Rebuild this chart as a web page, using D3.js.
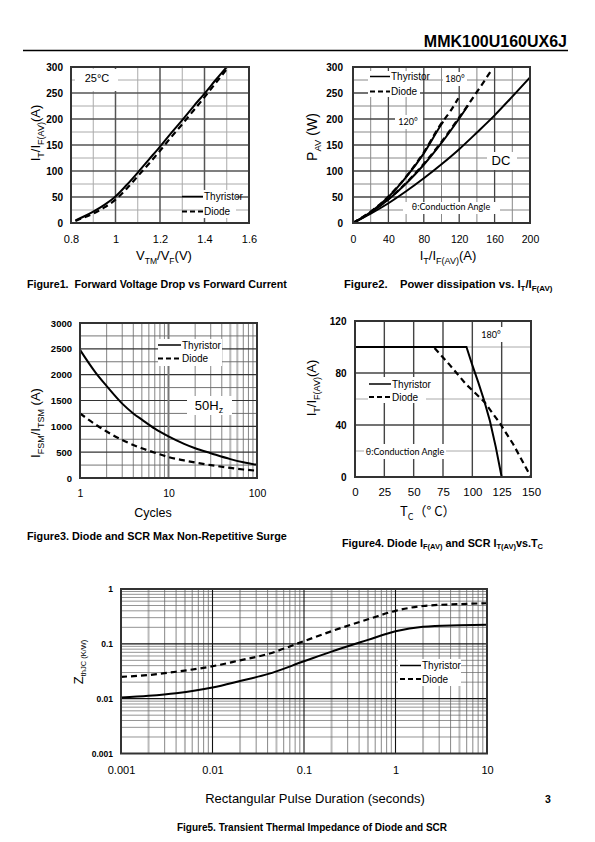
<!DOCTYPE html>
<html><head><meta charset="utf-8">
<script src="https://cdn.jsdelivr.net/npm/d3@7"></script>
<style>
html,body{margin:0;padding:0;background:#fff;}
svg{display:block;}
.pre{white-space:pre;}
</style></head><body>
<svg id="page" width="595" height="842"></svg>
<script>
// ================= DATA =================
// Figure 1 : forward voltage drop vs forward current
const fig1XTicks = [0.8, 1, 1.2, 1.4, 1.6];
const fig1XLabels = ["0.8", "1", "1.2", "1.4", "1.6"];
const fig1YTicks = [0, 50, 100, 150, 200, 250, 300];
const fig1Voltage = [0.82, 0.86, 0.9, 0.95, 1.0, 1.05, 1.1, 1.15, 1.2, 1.25, 1.3, 1.35, 1.4, 1.45, 1.5];
const fig1Thyristor = [5, 13, 22, 35, 51, 73, 97, 122, 147, 173, 198, 224, 249, 275, 300];
const fig1Diode = [4, 11, 18, 30, 45, 66, 90, 114, 139, 165, 190, 216, 242, 269, 296];

// Figure 2 : power dissipation
const fig2XTicks = [0, 40, 80, 120, 160, 200];
const fig2YTicks = [0, 50, 100, 150, 200, 250, 300];
const fig2DCCurrent = [0, 20, 40, 60, 80, 100, 120, 140, 160, 180, 200];
const fig2DCPower = [0, 18, 38, 61, 86, 113, 142, 174, 207, 243, 280];
const fig2T180Current = [0, 20, 40, 60, 80, 100, 120, 130];
const fig2T180Power = [0, 20, 45, 76, 112, 154, 201, 226];
const fig2D180Current = [0, 20, 40, 60, 80, 100, 120, 140, 155];
const fig2D180Power = [0, 21, 46, 77, 114, 156, 203, 252, 290];
const fig2T120Current = [0, 20, 40, 60, 80, 100, 102];
const fig2T120Power = [0, 21, 50, 88, 134, 190, 195];
const fig2D120Current = [0, 20, 40, 60, 80, 100, 110, 119];
const fig2D120Power = [0, 22, 51, 89, 136, 192, 215, 240];

// Figure 3 : max non-repetitive surge
const fig3XTicks = [1, 10, 100];
const fig3YTicks = [0, 500, 1000, 1500, 2000, 2500, 3000];
const fig3Cycles = [1, 1.5, 2, 3, 4, 5, 7, 10, 15, 20, 30, 50, 70, 100];
const fig3Thyristor = [2480, 2040, 1780, 1440, 1250, 1130, 955, 805, 660, 575, 480, 365, 305, 255];
const fig3Diode = [1250, 1035, 900, 735, 640, 575, 490, 405, 340, 300, 250, 195, 165, 140];

// Figure 4 : current vs case temperature
const fig4XTicks = [0, 25, 50, 75, 100, 125, 150];
const fig4YTicks = [0, 40, 80, 120];
const fig4TcThyristor = [0, 95, 100, 105, 110, 115, 120, 125];
const fig4Thyristor = [100, 100, 86, 73, 59, 43, 23, 0];
const fig4TcDiode = [0, 67, 80, 95, 110, 123, 135, 150];
const fig4Diode = [100, 100, 87, 71, 58, 42, 25, 0];

// Figure 5 : transient thermal impedance
const fig5XTicks = [0.001, 0.01, 0.1, 1, 10];
const fig5XLabels = ["0.001", "0.01", "0.1", "1", "10"];
const fig5YTicks = [0.001, 0.01, 0.1, 1];
const fig5YLabels = ["0.001", "0.01", "0.1", "1"];
const fig5Time = [0.001, 0.002, 0.004, 0.01, 0.02, 0.04, 0.1, 0.2, 0.5, 1, 2, 5, 10];
const fig5Thyristor = [0.0105, 0.0113, 0.0126, 0.016, 0.021, 0.028, 0.048, 0.072, 0.118, 0.17, 0.205, 0.218, 0.224];
const fig5Diode = [0.025, 0.027, 0.031, 0.039, 0.05, 0.065, 0.112, 0.17, 0.28, 0.40, 0.49, 0.53, 0.55];

// ================= DRAWING =================
const FONT = '"Liberation Sans", Arial, sans-serif';
const NARROW = '"Liberation Sans Narrow", "Liberation Sans", Arial, sans-serif';
const CAL = 'Lato, "Open Sans", sans-serif';
const svg = d3.select('#page');
svg.append('rect').attr('width', 595).attr('height', 842).attr('fill', '#fff');

function rich(parent, x, y, parts, o) {
  const t = parent.append('text').attr('x', x).attr('y', y)
    .attr('font-size', o.size).attr('font-weight', o.weight || 'normal')
    .attr('text-anchor', o.anchor || 'start').attr('font-family', o.family || FONT)
    .attr('fill', '#000');
  if (o.pre) t.attr('class', 'pre');
  if (o.rotate) t.attr('transform', `rotate(-90,${x},${y})`);
  let shift = 0;
  parts.forEach(([txt, kind]) => {
    const target = kind === 's' ? (o.subDy || 3) : 0;
    const ts = t.append('tspan').text(txt).attr('dy', target - shift);
    if (kind === 's') ts.attr('font-size', o.subSize || o.size * 0.7);
    shift = target;
  });
  return t;
}
function plain(parent, x, y, txt, o) {
  return rich(parent, x, y, [[txt, 'n']], o);
}
function vgrid(g, x, vals, y0, y1, color, w) {
  g.selectAll(null).data(vals).enter().append('line')
    .attr('x1', d => x(d)).attr('x2', d => x(d)).attr('y1', y0).attr('y2', y1)
    .attr('stroke', color).attr('stroke-width', w);
}
function hgrid(g, y, vals, x0, x1, color, w) {
  g.selectAll(null).data(vals).enter().append('line')
    .attr('y1', d => y(d)).attr('y2', d => y(d)).attr('x1', x0).attr('x2', x1)
    .attr('stroke', color).attr('stroke-width', w);
}
function box(g, x0, y0, x1, y1) {
  g.append('rect').attr('x', x0).attr('y', y0).attr('width', x1 - x0).attr('height', y1 - y0).attr('fill', '#fff');
}
function curve(g, x, y, xs, ys, dashed, c) {
  const pts = xs.map((v, i) => [v, ys[i]]);
  g.append('path').datum(pts)
    .attr('d', d3.line().x(d => x(d[0])).y(d => y(d[1])).curve(c || d3.curveMonotoneX))
    .attr('fill', 'none').attr('stroke', '#000').attr('stroke-width', dashed ? 2.2 : 2)
    .attr('stroke-dasharray', dashed ? '6,4' : null);
}
function border(g, x0, y0, x1, y1) {
  g.append('rect').attr('x', x0).attr('y', y0).attr('width', x1 - x0).attr('height', y1 - y0)
    .attr('fill', 'none').attr('stroke', '#333').attr('stroke-width', 2);
}
function xAxis(g, x, yPos, ticks, fmt, size, weight, baselineGap) {
  const pad = baselineGap - 0.71 * size;
  const a = g.append('g').attr('transform', `translate(0,${yPos})`)
    .call(d3.axisBottom(x).tickValues(ticks).tickFormat(fmt).tickSize(0).tickPadding(pad));
  a.select('.domain').remove();
  a.selectAll('text').attr('font-family', FONT).attr('font-size', size).attr('font-weight', weight).attr('fill', '#000');
}
function yAxis(g, y, xPos, ticks, fmt, size, weight, pad) {
  const a = g.append('g').attr('transform', `translate(${xPos},0)`)
    .call(d3.axisLeft(y).tickValues(ticks).tickFormat(fmt).tickSize(0).tickPadding(pad));
  a.select('.domain').remove();
  a.selectAll('text').attr('font-family', FONT).attr('font-size', size).attr('font-weight', weight).attr('fill', '#000');
}
function legend(g, x0, x1, yT, yD, tx, size) {
  g.append('line').attr('x1', x0).attr('x2', x1).attr('y1', yT).attr('y2', yT).attr('stroke', '#000').attr('stroke-width', 1.5);
  g.append('line').attr('x1', x0).attr('x2', x1).attr('y1', yD).attr('y2', yD).attr('stroke', '#000').attr('stroke-width', 2).attr('stroke-dasharray', '5,3');
  plain(g, tx, yT + size * 0.35, 'Thyristor', { size: size, family: NARROW });
  plain(g, tx, yD + size * 0.35, 'Diode', { size: size, family: NARROW });
}

// ---------- header ----------
plain(svg, 567, 46.5, 'MMK100U160UX6J', { size: 16, weight: 'bold', anchor: 'end' });
svg.append('line').attr('x1', 23).attr('x2', 568).attr('y1', 50.5).attr('y2', 50.5).attr('stroke', '#000').attr('stroke-width', 1.3);

// ---------- Figure 1 ----------
(function () {
  const g = svg.append('g');
  const X0 = 71, X1 = 249, Y0 = 67, Y1 = 223;
  const x = d3.scaleLinear().domain([0.8, 1.6]).range([X0, X1]);
  const y = d3.scaleLinear().domain([0, 300]).range([Y1, Y0]);
  vgrid(g, x, [0.9, 1.1, 1.3, 1.5], Y0, Y1, '#aaa', 1);
  hgrid(g, y, [25, 75, 125, 175, 225, 275], X0, X1, '#aaa', 1);
  vgrid(g, x, [1.0, 1.2, 1.4], Y0, Y1, '#555', 1.5);
  hgrid(g, y, [50, 100, 150, 200, 250], X0, X1, '#555', 1.5);
  box(g, 75, 69, 118, 91);
  plain(g, 97, 82, '25°C', { size: 11, anchor: 'middle' });
  box(g, 203, 190, 236, 218);
  curve(g, x, y, fig1Voltage, fig1Diode, true);
  curve(g, x, y, fig1Voltage, fig1Thyristor, false);
  legend(g, 182, 203, 196.5, 211.5, 204, 10);
  border(g, X0, Y0, X1, Y1);
  xAxis(g, x, Y1, fig1XTicks, (d, i) => fig1XLabels[i], 11, 'normal', 19.5);
  yAxis(g, y, X0, fig1YTicks, d3.format('d'), 10, 'bold', 8);
  rich(g, 40, 133, [['I', 'n'], ['T', 's'], ['/I', 'n'], ['F(AV)', 's'], ['(A)', 'n']], { size: 13, subSize: 9, subDy: 3.5, anchor: 'middle', rotate: true });
  rich(g, 164, 260, [['V', 'n'], ['TM', 's'], ['/V', 'n'], ['F', 's'], ['(V)', 'n']], { size: 13, subSize: 8.5, subDy: 3.5, anchor: 'middle' });
  plain(g, 27, 288, 'Figure1.  Forward Voltage Drop vs Forward Current', { size: 10.7, weight: 'bold', pre: true });
})();

// ---------- Figure 2 ----------
(function () {
  const g = svg.append('g');
  const X0 = 353, X1 = 530, Y0 = 67, Y1 = 223;
  const x = d3.scaleLinear().domain([0, 200]).range([X0, X1]);
  const y = d3.scaleLinear().domain([0, 300]).range([Y1, Y0]);
  vgrid(g, x, [20, 60, 100, 140, 180], Y0, Y1, '#888', 1);
  hgrid(g, y, [25, 75, 125, 175, 225, 275], X0, X1, '#888', 1);
  vgrid(g, x, [40, 80, 120, 160], Y0, Y1, '#444', 1.3);
  hgrid(g, y, [50, 100, 150, 200, 250], X0, X1, '#444', 1.3);
  box(g, 368, 71, 420, 97);
  box(g, 443, 72, 467, 86);
  box(g, 395, 115, 423, 129);
  box(g, 487, 152, 517, 170);
  box(g, 403, 202, 500, 214);
  curve(g, x, y, fig2D120Current, fig2D120Power, true);
  curve(g, x, y, fig2D180Current, fig2D180Power, true);
  curve(g, x, y, fig2DCCurrent, fig2DCPower, false);
  curve(g, x, y, fig2T180Current, fig2T180Power, false);
  curve(g, x, y, fig2T120Current, fig2T120Power, false);
  legend(g, 370, 390, 76.5, 91.5, 391, 10);
  plain(g, 455, 82, '180°', { size: 9, anchor: 'middle', family: CAL });
  plain(g, 408, 125, '120°', { size: 9, anchor: 'middle', family: CAL });
  plain(g, 501, 165, 'DC', { size: 13, anchor: 'middle' });
  plain(g, 451, 210, 'θ:Conduction Angle', { size: 9, anchor: 'middle', family: CAL });
  border(g, X0, Y0, X1, Y1);
  xAxis(g, x, Y1, fig2XTicks, d3.format('d'), 10.5, 'normal', 19.5);
  yAxis(g, y, X0, fig2YTicks, d3.format('d'), 10, 'bold', 10);
  rich(g, 317, 137, [['P', 'n'], ['AV', 's'], [' (W)', 'n']], { size: 14, subSize: 9.5, subDy: 3.5, anchor: 'middle', rotate: true });
  rich(g, 448, 260, [['I', 'n'], ['T', 's'], ['/I', 'n'], ['F(AV)', 's'], ['(A)', 'n']], { size: 13, subSize: 9, subDy: 3.5, anchor: 'middle' });
  rich(g, 344, 288, [['Figure2.    Power dissipation vs. I', 'n'], ['T', 's'], ['/I', 'n'], ['F(AV)', 's']], { size: 11.2, weight: 'bold', subSize: 8, subDy: 2.5, pre: true });
})();

// ---------- Figure 3 ----------
(function () {
  const g = svg.append('g');
  const X0 = 80, X1 = 257, Y0 = 323, Y1 = 478;
  const x = d3.scaleLog().domain([1, 100]).range([X0, X1]);
  const y = d3.scaleLinear().domain([0, 3000]).range([Y1, Y0]);
  const minor = [];
  [1, 10].forEach(dec => [2, 3, 4, 5, 6, 7, 8, 9].forEach(k => minor.push(dec * k)));
  vgrid(g, x, minor, Y0, Y1, '#666', 0.8);
  vgrid(g, x, [50, 60], Y0, Y1, '#bbb', 2);
  hgrid(g, y, [250, 750, 1250, 1750, 2250, 2750], X0, X1, '#666', 0.9);
  hgrid(g, y, [500, 1000, 1500, 2000, 2500], X0, X1, '#333', 1.2);
  vgrid(g, x, [10], Y0, Y1, '#777', 2);
  box(g, 158, 339, 222, 366);
  box(g, 187, 396, 232, 415);
  curve(g, x, y, fig3Cycles, fig3Diode, true);
  curve(g, x, y, fig3Cycles, fig3Thyristor, false);
  legend(g, 158, 181, 345, 358.5, 182, 10);
  rich(g, 209, 410, [['50H', 'n'], ['z', 's']], { size: 13, subSize: 9, subDy: 3, anchor: 'middle' });
  border(g, X0, Y0, X1, Y1);
  xAxis(g, x, Y1, fig3XTicks, d3.format('d'), 10.5, 'normal', 18.5);
  yAxis(g, y, X0, fig3YTicks, d3.format('d'), 9.5, 'bold', 8);
  rich(g, 40, 423, [['I', 'n'], ['FSM', 's'], ['/I', 'n'], ['TSM', 's'], [' (A)', 'n']], { size: 13, subSize: 9, subDy: 3.5, anchor: 'middle', rotate: true });
  plain(g, 153, 516.5, 'Cycles', { size: 12.5, anchor: 'middle' });
  plain(g, 27, 540, 'Figure3. Diode and SCR Max Non-Repetitive Surge', { size: 10.8, weight: 'bold' });
})();

// ---------- Figure 4 ----------
(function () {
  const g = svg.append('g');
  const X0 = 355, X1 = 531, Y0 = 321, Y1 = 477;
  const x = d3.scaleLinear().domain([0, 150]).range([X0, X1]);
  const y = d3.scaleLinear().domain([0, 120]).range([Y1, Y0]);
  hgrid(g, y, [20, 60, 100], X0, X1, '#aaa', 1);
  vgrid(g, x, [25, 50, 75, 100, 125], Y0, Y1, '#444', 1.4);
  hgrid(g, y, [40, 80], X0, X1, '#444', 1.4);
  box(g, 478, 327, 504, 342);
  box(g, 368, 377, 426, 403);
  box(g, 364, 444, 446, 459);
  curve(g, x, y, fig4TcDiode, fig4Diode, true, d3.curveLinear);
  curve(g, x, y, fig4TcThyristor, fig4Thyristor, false, d3.curveLinear);
  legend(g, 369, 391, 384, 397, 392, 10);
  plain(g, 491, 338, '180°', { size: 9, anchor: 'middle', family: CAL });
  plain(g, 405, 455, 'θ:Conduction Angle', { size: 9, anchor: 'middle', family: CAL });
  border(g, X0, Y0, X1, Y1);
  xAxis(g, x, Y1, fig4XTicks, d3.format('d'), 11.5, 'normal', 19);
  yAxis(g, y, X0, fig4YTicks, d3.format('d'), 10, 'bold', 8.5);
  rich(g, 316, 388, [['I', 'n'], ['T', 's'], ['/I', 'n'], ['F(AV)', 's'], ['(A)', 'n']], { size: 13, subSize: 9, subDy: 3.5, anchor: 'middle', rotate: true });
  rich(g, 400, 516, [['T', 'n'], ['C', 's'], ['（° C）', 'n']], { size: 13, subSize: 9, subDy: 3.5, family: '"Noto Sans CJK SC","Liberation Sans",sans-serif' });
  rich(g, 342, 546.5, [['Figure4. Diode I', 'n'], ['F(AV)', 's'], [' and SCR I', 'n'], ['T(AV)', 's'], ['vs.T', 'n'], ['C', 's']], { size: 10.8, weight: 'bold', subSize: 7.5, subDy: 2.5 });
})();

// ---------- Figure 5 ----------
(function () {
  const g = svg.append('g');
  const X0 = 121, X1 = 487, Y0 = 589, Y1 = 753.5;
  const x = d3.scaleLog().domain([0.001, 10]).range([X0, X1]);
  const y = d3.scaleLog().domain([0.001, 1]).range([Y1, Y0]);
  const xMinorDark = [], xMinorGrey = [], yMinor = [];
  [0.001, 0.01, 0.1, 1].forEach(dec => {
    [3, 4, 6, 7, 8, 9].forEach(k => xMinorDark.push(dec * k));
    [2, 5].forEach(k => xMinorGrey.push(dec * k));
  });
  [0.001, 0.01, 0.1].forEach(dec => [2, 3, 4, 5, 6, 7, 8, 9].forEach(k => yMinor.push(dec * k)));
  vgrid(g, x, xMinorGrey, Y0, Y1, '#bbb', 2);
  vgrid(g, x, xMinorDark, Y0, Y1, '#555', 0.7);
  hgrid(g, y, yMinor, X0, X1, '#666', 0.7);
  vgrid(g, x, [0.01, 0.1, 1], Y0, Y1, '#111', 1.1);
  hgrid(g, y, [0.01, 0.1], X0, X1, '#111', 1.1);
  box(g, 398, 659, 461, 686);
  curve(g, x, y, fig5Time, fig5Diode, true);
  curve(g, x, y, fig5Time, fig5Thyristor, false);
  legend(g, 400, 421, 665.5, 679, 422, 10);
  border(g, X0, Y0, X1, Y1);
  xAxis(g, x, Y1, fig5XTicks, (d, i) => fig5XLabels[i], 11, 'normal', 20);
  yAxis(g, y, X0, fig5YTicks, (d, i) => fig5YLabels[i], 8.5, 'bold', 8);
  rich(g, 83, 662, [['Z', 'n'], ['thJC (K/W)', 's']], { size: 13, subSize: 7.5, subDy: 2.5, anchor: 'middle', rotate: true });
  plain(g, 315, 803, 'Rectangular Pulse Duration (seconds)', { size: 13, anchor: 'middle' });
  plain(g, 548, 803, '3', { size: 10.5, weight: 'bold', anchor: 'middle' });
  plain(g, 312, 831, 'Figure5. Transient Thermal Impedance of Diode and SCR', { size: 10, weight: 'bold', anchor: 'middle' });
})();
</script>
</body></html>
